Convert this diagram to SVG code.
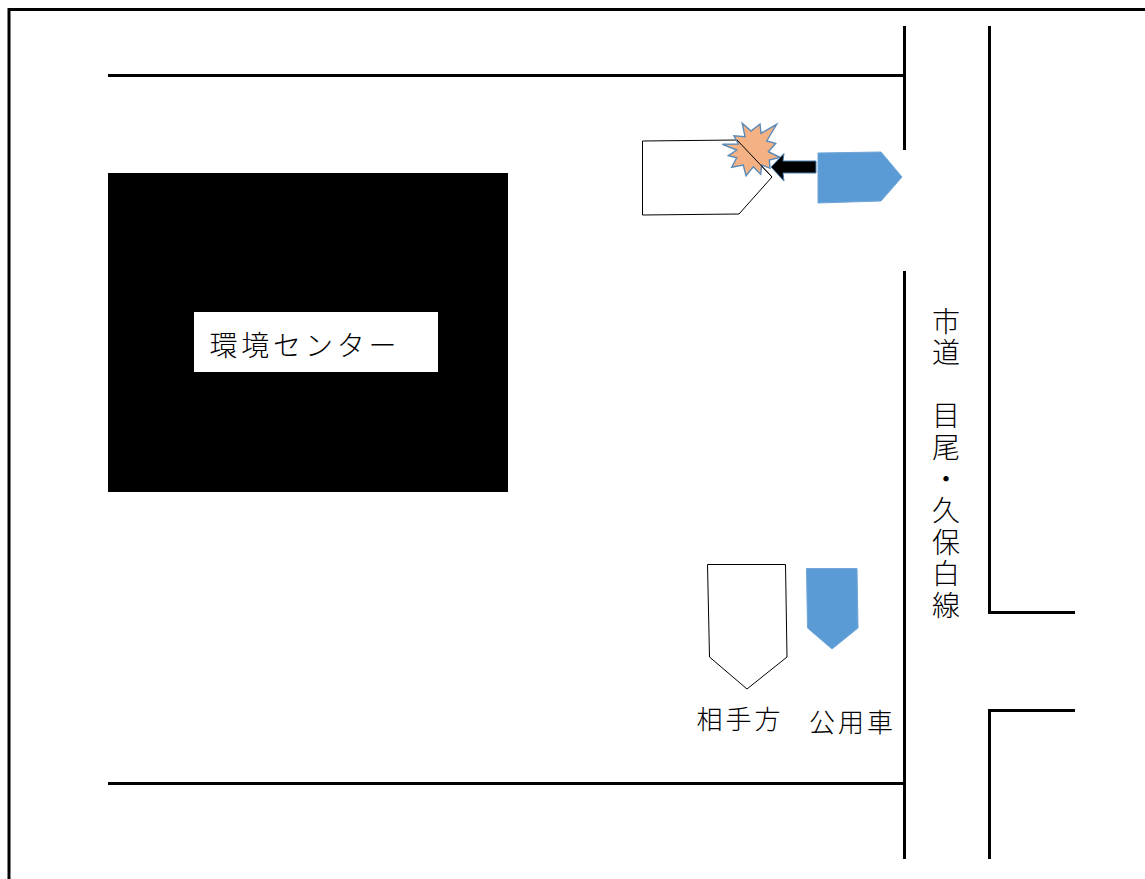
<svg xmlns="http://www.w3.org/2000/svg" width="1145" height="879" viewBox="0 0 1145 879">
<style>
text{font-family:"Noto Sans CJK JP","Noto Sans",sans-serif;font-weight:300;fill:#000}
.road{fill:none;stroke:#000;stroke-width:3}
.white{fill:#fff;stroke:#000;stroke-width:1}
.blue{fill:#5b9bd5;stroke:#6fa5d8;stroke-width:1}
.lbl{font-size:26px;letter-spacing:3px}
</style>
<rect width="1145" height="879" fill="#fff"/>
<g id="roads">
<path class="road" d="M9 879V9.500H1145"/>
<path class="road" d="M108 75.500H904.500M904.500 26V150M904.500 271V859M108 783.500H904.500M989.500 26V612.500H1075M989.500 859V710.500H1075"/>
</g>
<g id="building">
<rect x="108" y="173" width="400" height="319" fill="#000"/>
<rect x="194" y="312" width="244" height="60" fill="#fff"/>
<text x="209.500" y="355.500" font-size="28" letter-spacing="3.800">環境センター</text>
</g>
<g id="road-name">
<text x="946" y="307" font-size="28" letter-spacing="3.600" style="writing-mode:vertical-rl">市道　目尾・久保白線</text>
</g>
<g id="collision">
<path class="white" d="M642.500 141L737 140L772 177L739 214L642.500 215Z"/>
<path d="M742.300 123.300L751 131L760 124L761 133.300L776.700 124.300L766.700 141L775.700 143.300L768.300 151.700L780 157.300L769.300 160L770 168.300L761.700 165L760.700 174.300L753.300 166.700L746 175.700L743.300 165L731.700 167.300L736.700 157.700L728.300 155.700L736.700 150L722.300 144.300L738.300 144L734 135.700L745 136.700Z" fill="#f4b183" stroke="#5a8ab8" stroke-width="1.400"/>
<path d="M737 140L772 177" fill="none" stroke="#000" stroke-width="1"/>
<path d="M771 167L784 153.500L783 161H816V173H783L784 181Z" fill="#000" stroke="#4a7fb0" stroke-width="1"/>
<path class="blue" d="M818 153L881 152L902 177L881 201L818 203Z"/>
</g>
<g id="legend-other">
<path class="white" d="M707.500 564.500H785.500L787 657L747 689L709.500 657Z"/>
<text class="lbl" x="696.500" y="729">相手方</text>
</g>
<g id="legend-official">
<path class="blue" d="M806.500 568.500H857L858 628L832 649L807.500 628Z"/>
<text class="lbl" x="809" y="732">公用車</text>
</g>
</svg>
